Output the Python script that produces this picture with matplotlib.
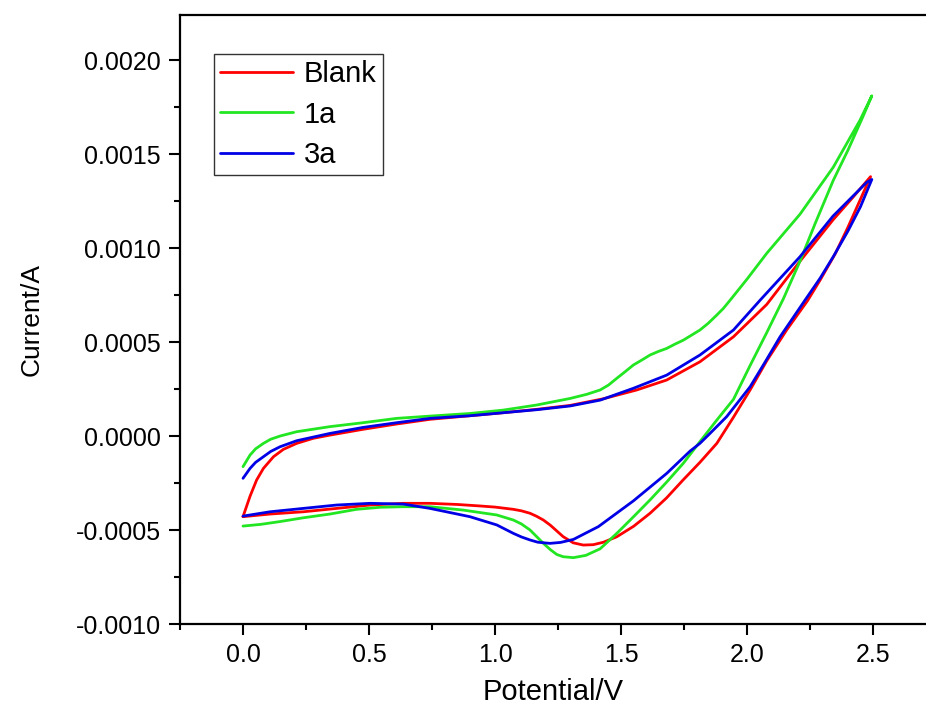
import matplotlib
matplotlib.use("Agg")
import matplotlib.pyplot as plt
from matplotlib.ticker import MultipleLocator, FormatStrFormatter

plt.rcParams['font.family'] = ['Liberation Sans', 'DejaVu Sans']
plt.rcParams['axes.unicode_minus'] = False

# ---- data (current in mA units, converted to A below) ----
blank_v = [0, 0.028, 0.054, 0.081, 0.121, 0.16, 0.213, 0.279, 0.345, 0.477,
           0.61, 0.742, 0.901, 1.032, 1.165,
           1.298, 1.429, 1.562, 1.681, 1.813, 1.946, 2.078, 2.21, 2.341, 2.42, 2.49,
           2.45, 2.40, 2.35, 2.29, 2.24, 2.157, 2.078, 2.012, 1.946, 1.88, 1.813, 1.746,
           1.68, 1.615, 1.55, 1.483, 1.43, 1.39, 1.35, 1.31, 1.27, 1.245, 1.22, 1.192, 1.165,
           1.139, 1.105, 1.073, 1.0, 0.94, 0.85, 0.742, 0.636, 0.504, 0.372, 0.239, 0.107, 0]
blank_i = [-0.429, -0.32, -0.234, -0.172, -0.11, -0.071, -0.039, -0.012, 0.005, 0.036,
           0.064, 0.089, 0.108, 0.124, 0.142,
           0.163, 0.198, 0.245, 0.298, 0.395, 0.528, 0.70, 0.93, 1.15, 1.27, 1.38,
           1.26, 1.11, 0.97, 0.83, 0.72, 0.564, 0.40, 0.245, 0.10, -0.039, -0.14, -0.234,
           -0.33, -0.411, -0.48, -0.536, -0.565, -0.578, -0.580, -0.568, -0.535, -0.505, -0.475,
           -0.447, -0.427, -0.411, -0.398, -0.39, -0.378, -0.372, -0.364, -0.358, -0.358, -0.367,
           -0.385, -0.403, -0.415, -0.429]

s1a_v = [0, 0.028, 0.05, 0.081, 0.11, 0.147, 0.213, 0.345, 0.477, 0.61, 0.742, 0.9, 1.033,
         1.165, 1.298, 1.364, 1.417, 1.45, 1.483, 1.516, 1.549, 1.582, 1.615, 1.648, 1.681,
         1.714, 1.747, 1.78, 1.813, 1.846, 1.88, 1.906, 1.933,
         2.0, 2.078, 2.21, 2.342, 2.448, 2.495,
         2.46, 2.40, 2.342, 2.27, 2.21, 2.144, 2.078, 2.012, 1.946, 1.88, 1.813, 1.747, 1.681,
         1.615, 1.549, 1.483, 1.417, 1.36, 1.311, 1.27, 1.245, 1.22, 1.192, 1.165, 1.139, 1.105,
         1.073, 1.007, 0.874, 0.742, 0.636, 0.544, 0.45, 0.345, 0.239, 0.147, 0.07, 0]
s1a_i = [-0.163, -0.101, -0.068, -0.039, -0.017, 0.0, 0.023, 0.050, 0.071, 0.094, 0.106,
         0.120, 0.138, 0.165, 0.20, 0.222, 0.245, 0.271, 0.307, 0.342, 0.378, 0.404, 0.431,
         0.45, 0.466, 0.489, 0.51, 0.537, 0.564, 0.60, 0.644, 0.679, 0.723,
         0.835, 0.972, 1.18, 1.43, 1.68, 1.81,
         1.70, 1.52, 1.36, 1.13, 0.93, 0.73, 0.55, 0.375, 0.195, 0.085, -0.03, -0.145, -0.245,
         -0.34, -0.43, -0.518, -0.600, -0.635, -0.647, -0.642, -0.630, -0.605, -0.571, -0.535,
         -0.50, -0.468, -0.447, -0.42, -0.394, -0.376, -0.376, -0.379, -0.39, -0.415, -0.435,
         -0.455, -0.47, -0.479]

s3a_v = [0, 0.028, 0.05, 0.081, 0.11, 0.147, 0.213, 0.345, 0.477, 0.61, 0.742, 0.9, 1.032,
         1.165, 1.298, 1.417, 1.549, 1.681, 1.813, 1.946, 2.052, 2.21, 2.341, 2.475, 2.495,
         2.45, 2.40, 2.342, 2.29, 2.23, 2.131, 2.07, 2.012, 1.919, 1.853, 1.813, 1.774, 1.681,
         1.549, 1.41, 1.311, 1.26, 1.218, 1.17, 1.139, 1.105, 1.073, 1.007, 0.9, 0.742, 0.636,
         0.504, 0.372, 0.239, 0.107, 0]
s3a_i = [-0.225, -0.172, -0.14, -0.11, -0.082, -0.057, -0.025, 0.014, 0.046, 0.071, 0.094,
         0.108, 0.124, 0.140, 0.160, 0.191, 0.254, 0.324, 0.431, 0.564, 0.723, 0.954, 1.17,
         1.35, 1.365,
         1.22, 1.09, 0.954, 0.84, 0.723, 0.528, 0.39, 0.262, 0.103, 0.014, -0.039, -0.08, -0.199,
         -0.345, -0.482, -0.55, -0.566, -0.571, -0.565, -0.553, -0.537, -0.518, -0.473, -0.429,
         -0.385, -0.362, -0.358, -0.367, -0.385, -0.403, -0.426]

labels = ["Blank", "1a", "3a"]
colors = ["#ff0000", "#22e622", "#0000e6"]
series = [(blank_v, blank_i), (s1a_v, s1a_i), (s3a_v, s3a_i)]

fig = plt.figure(figsize=(9.26, 7.14), dpi=100)
ax = fig.add_axes([180/926, 1-624/714, (926-180)/926, (624-15)/714])

for (v, i), lab, c in zip(series, labels, colors):
    ax.plot(v, [k * 1e-3 for k in i], color=c, lw=2.0, label=lab,
            solid_joinstyle='round', solid_capstyle='round')

ax.set_xlim(-0.25, 2.71)
ax.set_ylim(-0.0010, 0.00224)
ax.xaxis.set_major_locator(MultipleLocator(0.5))
ax.xaxis.set_minor_locator(MultipleLocator(0.25))
ax.yaxis.set_major_locator(MultipleLocator(0.0005))
ax.yaxis.set_minor_locator(MultipleLocator(0.00025))
ax.xaxis.set_major_formatter(FormatStrFormatter('%.1f'))
ax.yaxis.set_major_formatter(FormatStrFormatter('%.4f'))

for s in ['left', 'bottom', 'top']:
    ax.spines[s].set_linewidth(1.6)
ax.spines['right'].set_visible(False)
ax.tick_params(which='major', direction='out', length=8, width=1.5, labelsize=18, pad=6,
               top=False, right=False)
ax.tick_params(which='minor', direction='out', length=4.5, width=1.5, top=False, right=False)

ax.set_xlabel('Potential/V', fontsize=21)
ax.set_ylabel('Current/A', fontsize=19)
ax.xaxis.set_label_coords(0.5, (624-678)/609)
ax.yaxis.set_label_coords((44-180)/746, 0.5)

leg = ax.legend(loc='upper left', bbox_to_anchor=((214-180)/746, 1-(54-15)/609),
                borderaxespad=0, fontsize=21, handlelength=2.5, handletextpad=0.35,
                borderpad=0.22, labelspacing=0.42, fancybox=False, framealpha=1)
leg.get_frame().set_edgecolor('#333333')
leg.get_frame().set_linewidth(1.0)

fig.savefig('out.png', dpi=100)
